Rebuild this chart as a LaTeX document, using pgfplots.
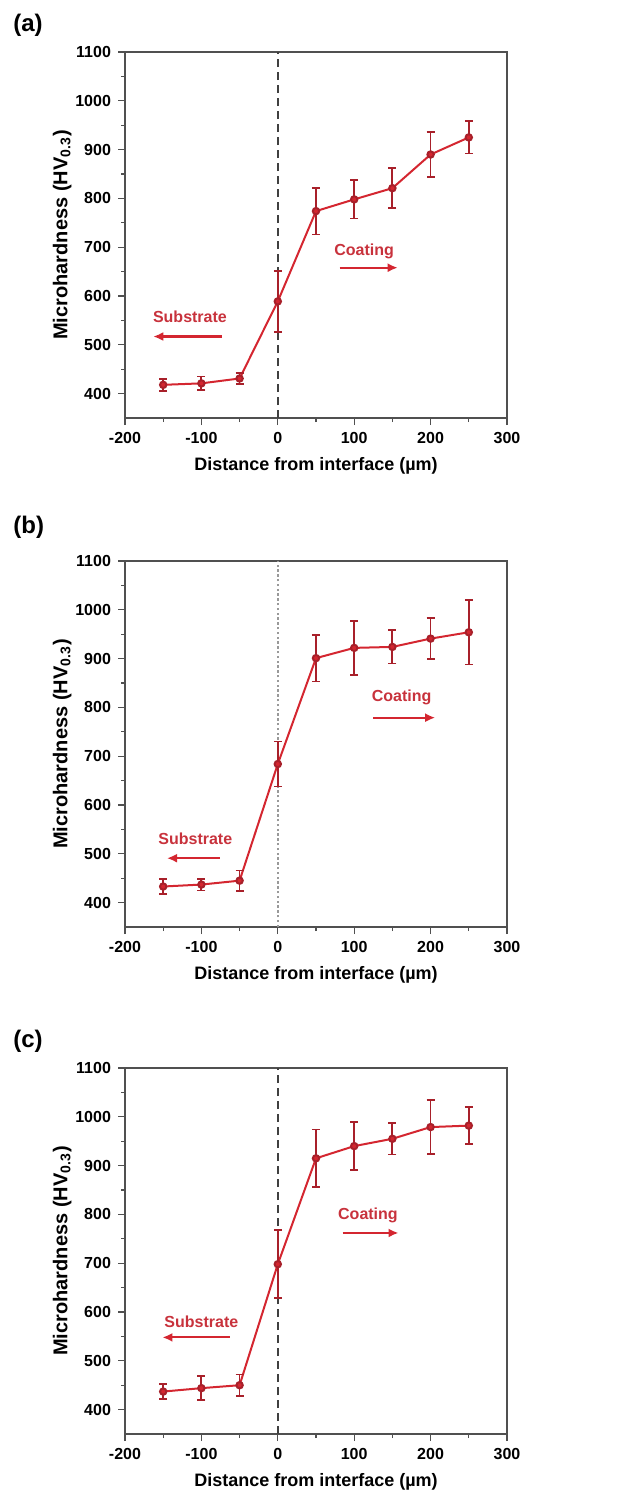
\documentclass[border=0pt]{standalone}
\usepackage{fontspec}
\setmainfont{Liberation Sans}
\usepackage{pgfplots}
\pgfplotsset{compat=1.18}
\usetikzlibrary{arrows.meta}
\definecolor{hvred}{HTML}{D42630}
\definecolor{barred}{HTML}{A8202A}
\definecolor{txtred}{HTML}{C8323C}
\definecolor{frame}{HTML}{505050}

\pgfplotsset{
  panel/.style={
    scale only axis,
    width=191pt, height=183pt,
    xmin=-200, xmax=300, ymin=350, ymax=1100,
    xtick={-200,-100,...,300}, ytick={400,500,...,1100},
    minor x tick num=1, minor y tick num=1,
    xtick pos=bottom, ytick pos=left,
    tick align=outside,
    major tick length=3.5pt, minor tick length=2pt,
    axis line style={frame, line width=0.6pt},
    tick style={frame, line width=0.6pt},
    /pgf/number format/assume math mode=true,
    /pgf/number format/set thousands separator={},
    tick label style={font=\fontsize{8}{9}\selectfont\bfseries},
    xlabel style={font=\fontsize{9}{10}\selectfont\bfseries},
    ylabel style={font=\fontsize{10}{11}\selectfont\bfseries, yshift=-5pt},
    xlabel={Distance from interface (µm)},
    ylabel={Microhardness (HV\textsubscript{0.3})},
    clip=false,
  },
  hv/.style={
    hvred, line width=1pt, mark=*, mark size=1.6pt,
    mark options={fill=hvred, draw=barred},
    error bars/.cd, y dir=both, y explicit,
    error mark options={rotate=90, mark size=2pt, barred, line width=0.9pt},
    error bar style={barred, line width=0.9pt},
  },
}
\tikzset{
  note/.style={txtred, font=\fontsize{8}{9}\selectfont\bfseries},
  arr/.style={hvred, line width=1.1pt, -{Latex[length=5pt,width=4.5pt]}},
  tag/.style={anchor=west, inner sep=0pt, font=\fontsize{12}{13}\selectfont\bfseries},
}

\begin{document}
\begin{tikzpicture}
\useasboundingbox (0,0) rectangle (311pt,-753pt);

% (a)
\node[tag] at (6.5pt,-12.5pt) {(a)};
\begin{axis}[panel, at={(62.5pt,-209pt)}, anchor=south west]
\addplot[black!75, line width=0.9pt, dash pattern=on 4pt off 2.5pt] coordinates {(0,350) (0,1100)};
\addplot[hv] coordinates {
  (-150,418) +- (0,12)
  (-100,421) +- (0,14)
  (-50,431)  +- (0,12)
  (0,589)    +- (0,62)
  (50,774)   +- (0,48)
  (100,798)  +- (0,39)
  (150,821)  +- (0,41)
  (200,890)  +- (0,46)
  (250,925)  +- (0,33)
};
\node[note] at (axis cs:-115,558) {Substrate};
\draw[arr] (axis cs:-73,517) -- (axis cs:-163,517);
\node[note] at (axis cs:113,691) {Coating};
\draw[arr] (axis cs:81,658) -- (axis cs:157,658);
\end{axis}

% (b)
\node[tag] at (6.5pt,-263.5pt) {(b)};
\begin{axis}[panel, at={(62.5pt,-463.5pt)}, anchor=south west]
\addplot[black!40, line width=0.8pt, dash pattern=on 1.2pt off 1.2pt] coordinates {(0,350) (0,1100)};
\addplot[hv] coordinates {
  (-150,433) +- (0,15)
  (-100,437) +- (0,12)
  (-50,445)  +- (0,21)
  (0,684)    +- (0,46)
  (50,901)   +- (0,48)
  (100,922)  +- (0,55)
  (150,924)  +- (0,34)
  (200,941)  +- (0,42)
  (250,954)  +- (0,66)
};
\node[note] at (axis cs:-108,531) {Substrate};
\draw[arr] (axis cs:-76,491) -- (axis cs:-145,491);
\node[note] at (axis cs:162,820) {Coating};
\draw[arr] (axis cs:125,779) -- (axis cs:206,779);
\end{axis}

% (c)
\node[tag] at (6.5pt,-520.5pt) {(c)};
\begin{axis}[panel, at={(62.5pt,-717pt)}, anchor=south west]
\addplot[black!75, line width=0.9pt, dash pattern=on 4pt off 2.5pt] coordinates {(0,350) (0,1100)};
\addplot[hv] coordinates {
  (-150,437) +- (0,16)
  (-100,444) +- (0,25)
  (-50,450)  +- (0,22)
  (0,698)    +- (0,70)
  (50,915)   +- (0,59)
  (100,940)  +- (0,49)
  (150,955)  +- (0,32)
  (200,979)  +- (0,55)
  (250,982)  +- (0,38)
};
\node[note] at (axis cs:-100,580) {Substrate};
\draw[arr] (axis cs:-63,548) -- (axis cs:-151,548);
\node[note] at (axis cs:118,797) {Coating};
\draw[arr] (axis cs:85,762) -- (axis cs:158,762);
\end{axis}
\end{tikzpicture}
\end{document}
